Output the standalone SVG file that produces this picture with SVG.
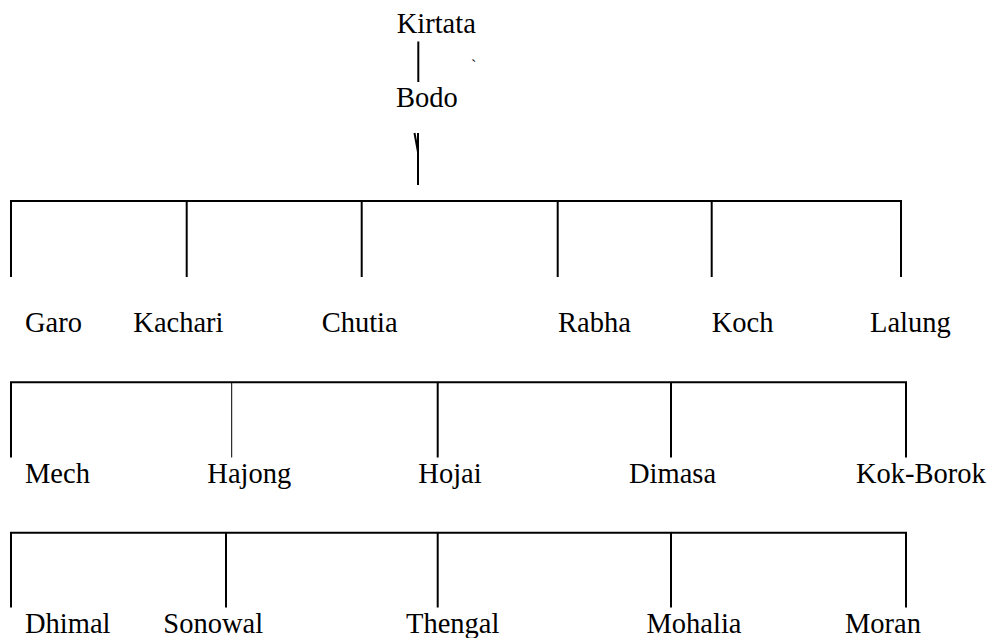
<svg xmlns="http://www.w3.org/2000/svg" width="993" height="638" viewBox="0 0 993 638">
<style>
text{font-family:"Liberation Serif","Times New Roman",serif;font-size:28.5px;fill:#000}
.c line,.c path{stroke:#000;stroke-width:2;fill:none}
.c .thin{stroke-width:1}
</style>
<rect width="993" height="638" fill="#fff"/>
<g class="c" id="connectors">
<line x1="418.3" y1="41.5" x2="418.3" y2="82"/>
<path d="M414.5 133 L418 152 M418 133 L418 185"/>
<path d="M11 277 V201 H901 V277"/>
<line x1="186.7" y1="201" x2="186.7" y2="277"/>
<line x1="361.7" y1="201" x2="361.7" y2="277"/>
<line x1="557.7" y1="201" x2="557.7" y2="277"/>
<line x1="711.7" y1="201" x2="711.7" y2="277"/>
<path d="M11 457.5 V382.3 H906 V457.5"/>
<line class="thin" x1="231.7" y1="382.3" x2="231.7" y2="457.5"/>
<line x1="437.7" y1="382.3" x2="437.7" y2="457.5"/>
<line x1="671" y1="382.3" x2="671" y2="457.5"/>
<path d="M11 607.5 V532.7 H906 V607.5"/>
<line x1="226" y1="532.7" x2="226" y2="607.5"/>
<line x1="437.7" y1="532.7" x2="437.7" y2="607.5"/>
<line x1="671" y1="532.7" x2="671" y2="607.5"/>
</g>
<g id="kirtata"><text x="396.7" y="33">Kirtata</text></g>
<g id="mark"><text x="471" y="71" style="font-size:16px">`</text></g>
<g id="bodo"><text x="396" y="107.3">Bodo</text></g>
<g id="garo"><text x="25" y="331.7">Garo</text></g>
<g id="kachari"><text x="133.3" y="331.7">Kachari</text></g>
<g id="chutia"><text x="321.7" y="331.7">Chutia</text></g>
<g id="rabha"><text x="558" y="331.7">Rabha</text></g>
<g id="koch"><text x="711.7" y="331.7">Koch</text></g>
<g id="lalung"><text x="870" y="331.7">Lalung</text></g>
<g id="mech"><text x="25" y="482.7">Mech</text></g>
<g id="hajong"><text x="207.3" y="482.7">Hajong</text></g>
<g id="hojai"><text x="418.3" y="482.7">Hojai</text></g>
<g id="dimasa"><text x="629" y="482.7">Dimasa</text></g>
<g id="kokborok"><text x="856" y="482.7">Kok-Borok</text></g>
<g id="dhimal"><text x="25" y="633">Dhimal</text></g>
<g id="sonowal"><text x="163.3" y="633">Sonowal</text></g>
<g id="thengal"><text x="406" y="633">Thengal</text></g>
<g id="mohalia"><text x="646.5" y="633">Mohalia</text></g>
<g id="moran"><text x="845" y="633">Moran</text></g>
</svg>
